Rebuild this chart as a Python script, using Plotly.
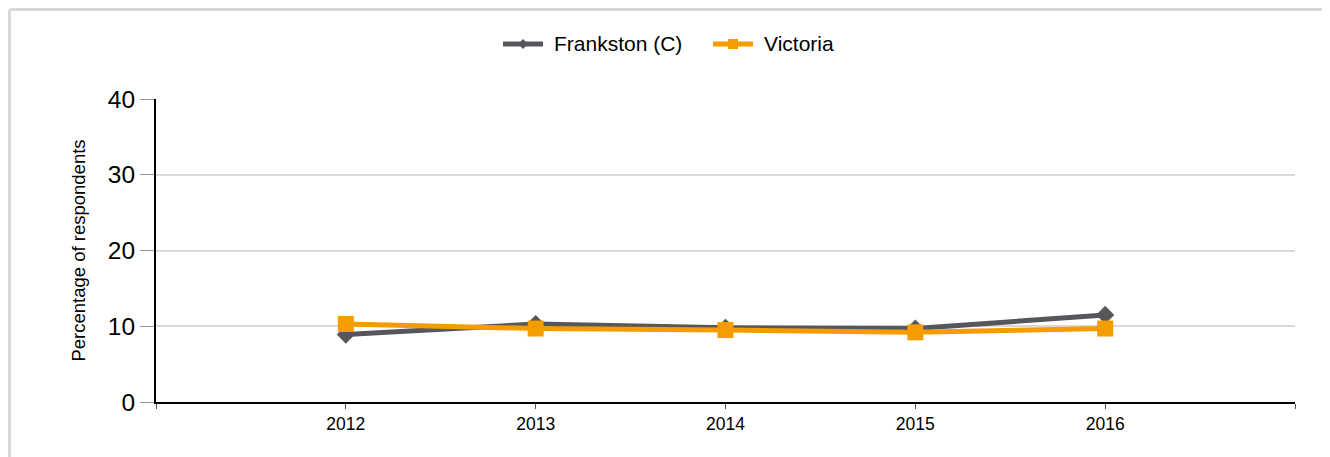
import plotly.graph_objects as go

years = [2012, 2013, 2014, 2015, 2016]
frankston = [8.9, 10.3, 9.8, 9.7, 11.5]
victoria = [10.3, 9.7, 9.5, 9.2, 9.7]
y_ticks = [0, 10, 20, 30, 40]
series_names = ["Frankston (C)", "Victoria"]
series_colors = ["#55575b", "#f59c00"]

W, H = 1330, 457
OFF = 8  # page body offset
L, R, T, B = 156 - OFF, 35 + OFF, 99 - OFF, 55 + OFF
pw = W - L - R
ph = H - T - B


def px(page_x):
    return (page_x - OFF - L) / pw


def py(page_y):
    return (H - B - (page_y - OFF)) / ph


fig = go.Figure()
fig.add_trace(go.Scatter(
    x=years, y=frankston, name=series_names[0], mode="lines+markers",
    line=dict(color=series_colors[0], width=5),
    marker=dict(symbol="diamond", size=14, color=series_colors[0]),
    showlegend=False,
))
fig.add_trace(go.Scatter(
    x=years, y=victoria, name=series_names[1], mode="lines+markers",
    line=dict(color=series_colors[1], width=5),
    marker=dict(symbol="square", size=16, color=series_colors[1]),
    showlegend=False,
))

# light grey frame (top and left edges visible)
fig.add_shape(type="line", xref="paper", yref="paper",
              x0=px(9.5), x1=px(W + 20), y0=py(9.5), y1=py(9.5),
              line=dict(color="#d9d9d9", width=3))
fig.add_shape(type="line", xref="paper", yref="paper",
              x0=px(9.5), x1=px(9.5), y0=py(9.5), y1=py(H + 20),
              line=dict(color="#d9d9d9", width=3))

# custom legend
ly = 44
legend_x = [503, 713]
for i, (name, col) in enumerate(zip(series_names, series_colors)):
    x0 = legend_x[i]
    fig.add_shape(type="line", xref="paper", yref="paper",
                  x0=px(x0), x1=px(x0 + 40), y0=py(ly), y1=py(ly),
                  line=dict(color=col, width=5))
    cx = x0 + 20
    if i == 0:
        path = "M {} {} L {} {} L {} {} L {} {} Z".format(
            px(cx), py(ly - 5), px(cx + 5), py(ly), px(cx), py(ly + 5), px(cx - 5), py(ly))
        fig.add_shape(type="path", xref="paper", yref="paper", path=path,
                      fillcolor=col, line=dict(color=col, width=0))
    else:
        fig.add_shape(type="rect", xref="paper", yref="paper",
                      x0=px(cx - 5), x1=px(cx + 5), y0=py(ly - 5), y1=py(ly + 5),
                      fillcolor=col, line=dict(color=col, width=0))
    fig.add_annotation(text=name, xref="paper", yref="paper",
                       x=px(x0 + 49), y=py(ly), xanchor="left", yanchor="middle",
                       showarrow=False, font=dict(size=21, color="#000"))

fig.update_layout(
    width=W, height=H,
    margin=dict(l=L, r=R, t=T, b=B),
    paper_bgcolor="white", plot_bgcolor="white",
    font=dict(family="Liberation Sans, Arial, sans-serif", color="#000"),
    showlegend=False,
    xaxis=dict(range=[2011, 2017], tickvals=[2011, 2012, 2013, 2014, 2015, 2016, 2017],
               ticktext=["", "2012", "2013", "2014", "2015", "2016", ""],
               showgrid=False, zeroline=False,
               showline=True, linecolor="#000", linewidth=2,
               ticks="outside", ticklen=5, tickcolor="#555", tickwidth=1,
               tickfont=dict(size=17.5)),
    yaxis=dict(range=[0, 40], tickvals=y_ticks,
               showgrid=True, gridcolor="#d9d9d9", gridwidth=2, zeroline=False,
               showline=True, linecolor="#000", linewidth=2,
               ticks="outside", ticklen=14, tickcolor="#999", tickwidth=1,
               tickfont=dict(size=24.5),
               title=dict(text="Percentage of respondents", font=dict(size=18.5), standoff=17)),
)
fig.write_html("out.html")
